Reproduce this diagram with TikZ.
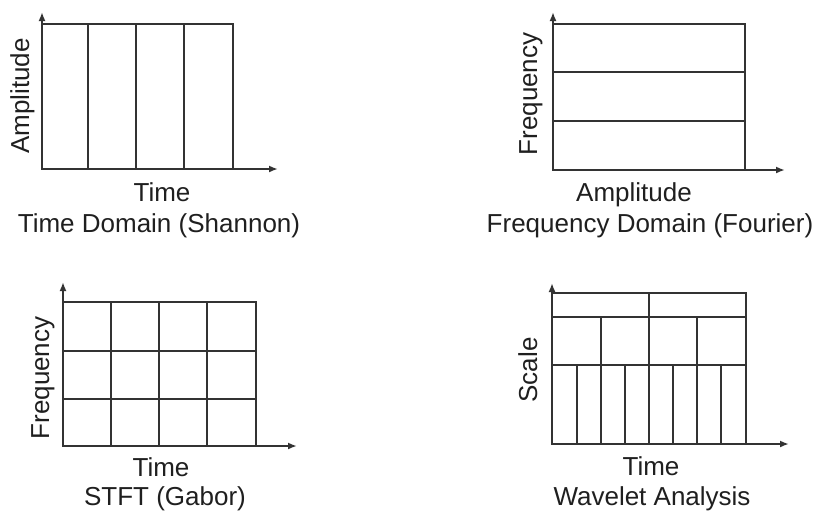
\documentclass[tikz,border=0pt]{standalone}
\usepackage{fontspec}
\setmainfont{Liberation Sans}
\usetikzlibrary{arrows.meta}
\begin{document}
\begin{tikzpicture}[x=1pt,y=-1pt,
  gridline/.style={line width=2.6pt,draw=black!80,line cap=rect},
  axisline/.style={line width=2.6pt,draw=black!80,-{Latex[length=9pt,width=7pt]}},
  lbl/.style={font=\fontsize{26}{30}\selectfont,text=black!88,inner sep=0pt,anchor=base},
  vlbl/.style={lbl,rotate=90}]
\useasboundingbox (0,0) rectangle (819,514);
% ---------- Panel 1: Time Domain ----------
\coordinate (o1) at (42,169);
\coordinate (y1) at (42,12);
\coordinate (x1) at (278,169);
\draw[gridline] (42,24) rectangle (233,169);
\foreach \x in {88,136,184} \draw[gridline] (\x,24) -- (\x,169);
\draw[axisline] (o1) -- (y1);
\draw[axisline] (o1) -- (x1);
\node[vlbl] (a1) at (29,96) {Amplitude};
\node[lbl] (t1) at (162,201) {Time};
\node[lbl] (c1) at (159,232) {Time Domain (Shannon)};
% ---------- Panel 2: Frequency Domain ----------
\coordinate (o2) at (553,170);
\coordinate (y2) at (553,12);
\coordinate (x2) at (785,170);
\draw[gridline] (553,24) rectangle (745,170);
\foreach \y in {72,121} \draw[gridline] (553,\y) -- (745,\y);
\draw[axisline] (o2) -- (y2);
\draw[axisline] (o2) -- (x2);
\node[vlbl] (a2) at (537,94) {Frequency};
\node[lbl] (t2) at (634,201) {Amplitude};
\node[lbl] (c2) at (650,232) {Frequency Domain (Fourier)};
% ---------- Panel 3: STFT ----------
\coordinate (o3) at (63,446);
\coordinate (y3) at (63,282);
\coordinate (x3) at (297,446);
\draw[gridline] (63,302) rectangle (256,446);
\foreach \x in {111,159,207} \draw[gridline] (\x,302) -- (\x,446);
\foreach \y in {351,399} \draw[gridline] (63,\y) -- (256,\y);
\draw[axisline] (o3) -- (y3);
\draw[axisline] (o3) -- (x3);
\node[vlbl] (a3) at (49,378) {Frequency};
\node[lbl] (t3) at (161,476) {Time};
\node[lbl] (c3) at (165,505) {STFT (Gabor)};
% ---------- Panel 4: Wavelet ----------
\coordinate (o4) at (552,444);
\coordinate (y4) at (552,283);
\coordinate (x4) at (789,444);
\draw[gridline] (552,293) rectangle (746,444);
\foreach \y in {317,365} \draw[gridline] (552,\y) -- (746,\y);
\draw[gridline] (649,293) -- (649,444);
\foreach \x in {601,697} \draw[gridline] (\x,317) -- (\x,444);
\foreach \x in {577,625,673,721} \draw[gridline] (\x,365) -- (\x,444);
\draw[axisline] (o4) -- (y4);
\draw[axisline] (o4) -- (x4);
\node[vlbl] (a4) at (537,370) {Scale};
\node[lbl] (t4) at (651,475) {Time};
\node[lbl] (c4) at (652,505) {Wavelet Analysis};
\end{tikzpicture}
\end{document}
